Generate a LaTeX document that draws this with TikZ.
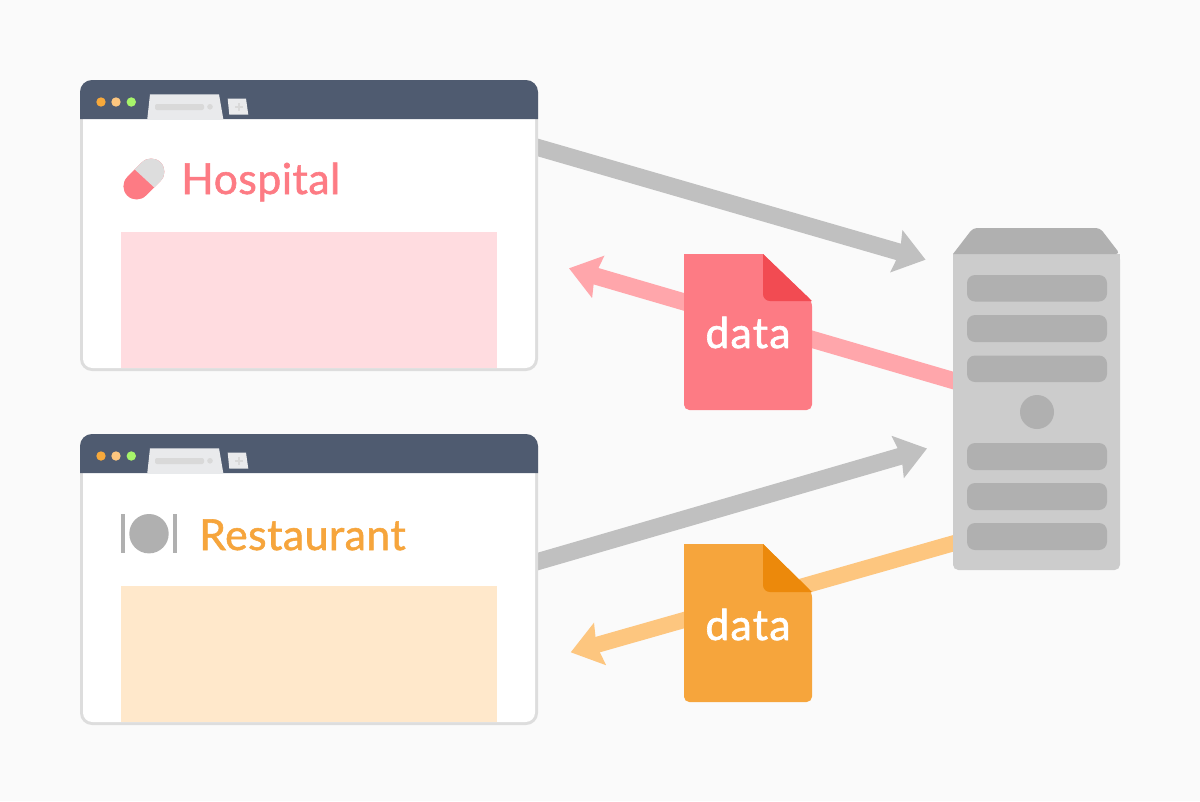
\documentclass[tikz,border=0pt]{standalone}
\usepackage{fontspec}
\setmainfont{Lato}
\newfontfamily\titlefont[FakeBold=1.3,LetterSpace=1.2]{Lato}
\newfontfamily\datafont[FakeBold=1.5,LetterSpace=3]{Lato}
\usetikzlibrary{arrows.meta}
\definecolor{bgc}{HTML}{FAFAFA}
\definecolor{frame}{HTML}{DDDDDD}
\definecolor{head}{HTML}{4F5B70}
\definecolor{tabc}{HTML}{E9EAEC}
\definecolor{tabd}{HTML}{D9D9D9}
\definecolor{dotA}{HTML}{F7A93B}
\definecolor{dotB}{HTML}{FDC67F}
\definecolor{dotC}{HTML}{A7F56A}
\definecolor{pinkM}{HTML}{FD7B84}
\definecolor{pinkD}{HTML}{F24B52}
\definecolor{pinkL}{HTML}{FFA6AB}
\definecolor{pinkP}{HTML}{FFDCE0}
\definecolor{orgM}{HTML}{F6A53C}
\definecolor{orgD}{HTML}{EC890B}
\definecolor{orgL}{HTML}{FDC67F}
\definecolor{orgP}{HTML}{FFE8CB}
\definecolor{srvL}{HTML}{CCCCCC}
\definecolor{srvD}{HTML}{B0B0B0}
\definecolor{arrG}{HTML}{C0C0C0}
\tikzset{
  x=0.75pt,y=-0.75pt,
  conn/.style={line width=12.8pt,-{Stealth[length=22.5pt,width=32pt,inset=2.5pt]}},
  bar/.style={fill=srvD,draw=none,rounded corners=6pt},
  doclabel/.style={text=white,font=\datafont\fontsize{32}{32}\selectfont,anchor=base,inner sep=0pt},
  title/.style={font=\titlefont\fontsize{32}{32}\selectfont,anchor=base west,inner sep=0pt},
}
\newcommand{\browser}[2]{%
  \begin{scope}[shift={(0,#1)}]
    \fill[frame,rounded corners=9pt] (80,80) rectangle (538,371);
    \fill[white,rounded corners=7pt] (83,100) rectangle (535,368);
    \fill[head] (80,119) [rounded corners=9pt] -- (80,80) -- (538,80) [sharp corners] -- (538,119) -- cycle;
    \fill[tabc] (147.3,119) -- (150,94.3) -- (219,94.3) -- (223.3,119) -- cycle;
    \fill[tabd,rounded corners=1.5pt] (155,104) rectangle (204,110);
    \fill[tabd] (210,106.8) circle[radius=2.8];
    \fill[tabc] (227.7,98.7) -- (246,98.7) -- (248.3,114.7) -- (229.3,114.7) -- cycle;
    \fill[tabd] (235,106.2) rectangle (243,107.8);
    \fill[tabd] (238.2,103) rectangle (239.8,111);
    \fill[dotA] (101,102) circle[radius=4.7];
    \fill[dotB] (116,102) circle[radius=4.7];
    \fill[dotC] (131.3,102) circle[radius=4.7];
    \fill[#2] (121,232) rectangle (497,368);
  \end{scope}
}
\begin{document}
\begin{tikzpicture}
\useasboundingbox (0,0) rectangle (1200,801);
\fill[bgc] (0,0) rectangle (1200,801);
\coordinate (h1) at (530,145.2);
\coordinate (h2) at (925.6,259.7);
\coordinate (p1) at (965,384);
\coordinate (p2) at (569,268.3);
\coordinate (r1) at (530,563.8);
\coordinate (r2) at (927,448.5);
\coordinate (o1) at (965,540);
\coordinate (o2) at (570.7,652.3);
% connectors
\draw[conn,arrG] (h1) -- (h2);
\draw[conn,pinkL] (p1) -- (p2);
\draw[conn,arrG] (r1) -- (r2);
\draw[conn,orgL,line width=12pt] (o1) -- (o2);
% browsers
\browser{0}{pinkP}
\browser{354}{orgP}
% pill
\draw[pinkM,line width=19.8pt,line cap=round] (136.6,186.3) -- (151.2,171.7);
\begin{scope}
  \clip (119,153) -- (170,153) -- (170,204) -- (157,190) -- (131,166) -- cycle;
  \draw[frame,line width=19.8pt,line cap=round] (136.6,186.3) -- (151.2,171.7);
\end{scope}
\node[title,text=pinkM] (hosplabel) at (181,194) {Hospital};
% plate
\fill[srvD] (121,514) rectangle (125,553);
\fill[srvD] (173,514) rectangle (177,553);
\fill[srvD] (149,533.7) circle[radius=19.7];
\node[title,text=orgM] (restlabel) at (199,550) {Restaurant};
% server
\fill[srvL,rounded corners=4pt] (953,254) -- (953,570) -- (1120,570) -- (1120,254) -- cycle;
\fill[srvL] (953,254) rectangle (1120,290);
\fill[srvD,rounded corners=3pt] (953,254) -- (973,228) -- (1100,228) -- (1120,254) [sharp corners] -- cycle;
\fill[bar] (967,275) rectangle (1107,301.5);
\fill[bar] (967,315) rectangle (1107,342);
\fill[bar] (967,355.5) rectangle (1107,382);
\fill[srvD] (1037,412) circle[radius=17];
\fill[bar] (967,443) rectangle (1107,470);
\fill[bar] (967,483) rectangle (1107,510);
\fill[bar] (967,523) rectangle (1107,550);
% documents
\fill[pinkM,rounded corners=4pt] (684,254) -- (684,410) -- (812,410) -- (812,301) [sharp corners] -- (763,254) -- cycle;
\fill[pinkD] (763,254) -- (812,301) -- (770,301) .. controls (766,301) and (763,298) .. (763,294) -- cycle;
\node[doclabel] (data1) at (748,348) {data};
\fill[orgM,rounded corners=4pt] (684,544) -- (684,702) -- (812,702) -- (812,592) [sharp corners] -- (763,544) -- cycle;
\fill[orgD] (763,544) -- (812,592) -- (770,592) .. controls (766,592) and (763,589) .. (763,585) -- cycle;
\node[doclabel] (data2) at (748,640) {data};
\end{tikzpicture}
\end{document}
